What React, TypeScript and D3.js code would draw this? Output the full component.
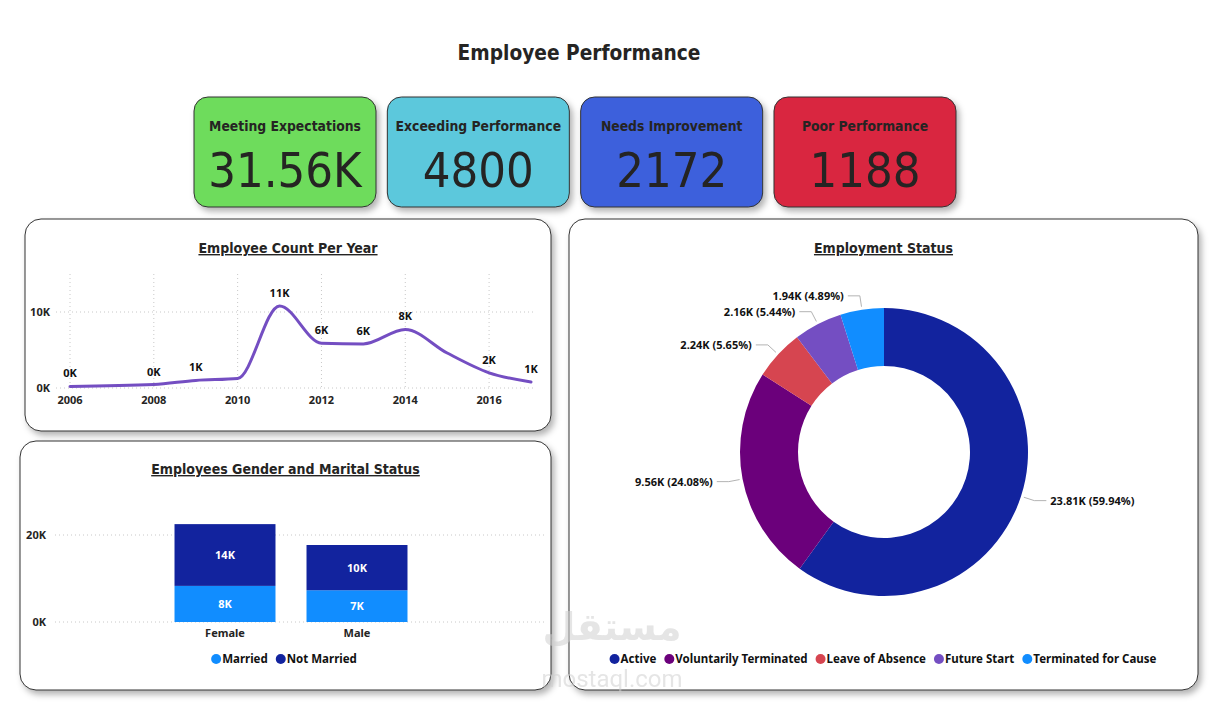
import {useEffect, useRef} from "react";
import * as d3 from "d3";

// KPI cards
const kpiTitles = ["Meeting Expectations", "Exceeding Performance", "Needs Improvement", "Poor Performance"];
const kpiValues = ["31.56K", "4800", "2172", "1188"];
const kpiColors = ["#6edc5c", "#5bc8dc", "#3c60dc", "#d92740"];

// Employee count per year
const years = [2006, 2008, 2009, 2010, 2011, 2012, 2013, 2014, 2015, 2016, 2017];
const yearCounts = [200, 450, 1000, 1250, 10800, 5900, 5800, 7700, 4600, 2000, 800];
const yearLabels = ["0K", "0K", "1K", "", "11K", "6K", "6K", "8K", "", "2K", "1K"];
const yearTicks = [2006, 2008, 2010, 2012, 2014, 2016];
const countTicks = [0, 10000];

// Gender and marital status
const genders = ["Female", "Male"];
const marriedCounts = [8300, 7300];
const notMarriedCounts = [14200, 10400];
const maritalKeys = ["Married", "Not Married"];
const maritalColors = ["#118dff", "#12239e"];
const genderTicks = [0, 20000];

// Employment status
const statuses = ["Active", "Voluntarily Terminated", "Leave of Absence", "Future Start", "Terminated for Cause"];
const statusCounts = [23810, 9560, 2240, 2160, 1940];
const statusLabels = ["23.81K (59.94%)", "9.56K (24.08%)", "2.24K (5.65%)", "2.16K (5.44%)", "1.94K (4.89%)"];
const statusColors = ["#12239e", "#6b007b", "#d64550", "#744ec2", "#118dff"];

const DIN = "'DejaVu Sans', sans-serif";
const SEGOE = "'Noto Sans', 'Open Sans', sans-serif";
const INK = "#252423";

export default function App() {
  const svgRef = useRef<SVGSVGElement>(null);

  useEffect(() => {
    if (!svgRef.current) return;
    const svg = d3.select(svgRef.current);
    svg.selectAll("*").remove();

    const defs = svg.append("defs");
    defs
      .append("filter")
      .attr("id", "shadow")
      .attr("x", "-10%")
      .attr("y", "-10%")
      .attr("width", "130%")
      .attr("height", "140%")
      .append("feDropShadow")
      .attr("dx", 3)
      .attr("dy", 4)
      .attr("stdDeviation", 3)
      .attr("flood-color", "#000")
      .attr("flood-opacity", 0.3);

    const din = (g: d3.Selection<any, any, any, any>, size: number, bold = true) =>
      g
        .style("font-family", DIN)
        .style("font-stretch", "condensed")
        .style("font-weight", bold ? "bold" : "normal")
        .style("font-size", `${size}px`)
        .style("fill", INK);

    // titre principal
    svg
      .append("text")
      .attr("x", 579)
      .attr("y", 60)
      .attr("text-anchor", "middle")
      .call(din, 20.7)
      .text("Employee Performance");

    // cartes KPI
    const kpiX = d3.scaleBand<string>().domain(kpiTitles).range([194, 956]).paddingInner(0.0586);
    const cards = svg
      .selectAll("g.kpi")
      .data(kpiTitles)
      .join("g")
      .attr("class", "kpi")
      .attr("transform", (d) => `translate(${kpiX(d)},97)`);
    cards
      .append("rect")
      .attr("width", kpiX.bandwidth())
      .attr("height", 110)
      .attr("rx", 14)
      .style("fill", (d, i) => kpiColors[i])
      .style("stroke", "#333")
      .style("stroke-width", 1)
      .attr("filter", "url(#shadow)");
    cards
      .append("text")
      .attr("x", kpiX.bandwidth() / 2)
      .attr("y", 34)
      .attr("text-anchor", "middle")
      .call(din, 13.8)
      .text((d) => d);
    cards
      .append("text")
      .attr("x", kpiX.bandwidth() / 2)
      .attr("y", 90)
      .attr("text-anchor", "middle")
      .call(din, 48.5, false)
      .text((d, i) => kpiValues[i]);

    // panneaux
    const panel = (x: number, y: number, w: number, h: number, title: string, ty: number) => {
      svg
        .append("rect")
        .attr("x", x)
        .attr("y", y)
        .attr("width", w)
        .attr("height", h)
        .attr("rx", 16)
        .style("fill", "#fff")
        .style("stroke", "#333")
        .style("stroke-width", 1)
        .attr("filter", "url(#shadow)");
      svg
        .append("text")
        .attr("x", x + w / 2)
        .attr("y", ty)
        .attr("text-anchor", "middle")
        .call(din, 14)
        .style("text-decoration", "underline")
        .text(title);
    };
    panel(25, 219, 526, 212, "Employee Count Per Year", 253);
    panel(20, 441, 531, 249, "Employees Gender and Marital Status", 474);
    panel(569, 219, 629, 471, "Employment Status", 253);

    const label = (g: d3.Selection<any, any, any, any>) =>
      g.style("font-family", SEGOE).style("font-weight", "bold").style("font-size", "11px").style("fill", INK);

    // ---- Courbe par année
    const x = d3.scaleLinear().domain([2006, 2017]).range([70, 531]);
    const y = d3.scaleLinear().domain([0, 15000]).range([388, 274]);
    const grid = "#c8c8c8";
    svg
      .append("g")
      .selectAll("line")
      .data(yearTicks)
      .join("line")
      .attr("x1", (d) => x(d))
      .attr("x2", (d) => x(d))
      .attr("y1", y(15000))
      .attr("y2", y(0))
      .style("stroke", grid)
      .style("stroke-dasharray", "1,3");
    svg
      .append("g")
      .selectAll("line")
      .data(countTicks)
      .join("line")
      .attr("x1", 56)
      .attr("x2", 534)
      .attr("y1", (d) => y(d))
      .attr("y2", (d) => y(d))
      .style("stroke", grid)
      .style("stroke-dasharray", "1,3");
    svg
      .append("g")
      .selectAll("text")
      .data(countTicks)
      .join("text")
      .attr("x", 50)
      .attr("y", (d) => y(d) + 4)
      .attr("text-anchor", "end")
      .text((d) => `${d / 1000}K`)
      .call(label);
    svg
      .append("g")
      .selectAll("text")
      .data(yearTicks)
      .join("text")
      .attr("x", (d) => x(d))
      .attr("y", 404)
      .attr("text-anchor", "middle")
      .text((d) => d)
      .call(label);

    const line = d3
      .line<number>()
      .x((d, i) => x(years[i]))
      .y((d) => y(d))
      .curve(d3.curveMonotoneX);
    svg
      .append("path")
      .datum(yearCounts)
      .attr("d", line)
      .style("fill", "none")
      .style("stroke", "#744ec2")
      .style("stroke-width", 3)
      .style("stroke-linecap", "round");
    svg
      .append("g")
      .selectAll("text")
      .data(yearCounts)
      .join("text")
      .attr("x", (d, i) => x(years[i]))
      .attr("y", (d) => y(d) - 9)
      .attr("text-anchor", "middle")
      .text((d, i) => yearLabels[i])
      .call(label)
      .style("fill", "#111");

    // ---- Barres empilées
    const bx = d3.scaleBand<string>().domain(genders).range([93, 489]).paddingInner(0.235).paddingOuter(0.6175);
    const by = d3.scaleLinear().domain([0, 25000]).range([622, 513.25]);
    svg
      .append("g")
      .selectAll("line")
      .data(genderTicks)
      .join("line")
      .attr("x1", 55)
      .attr("x2", 545)
      .attr("y1", (d) => by(d))
      .attr("y2", (d) => by(d))
      .style("stroke", grid)
      .style("stroke-dasharray", "1,3");
    svg
      .append("g")
      .selectAll("text")
      .data(genderTicks)
      .join("text")
      .attr("x", 46)
      .attr("y", (d) => by(d) + 4)
      .attr("text-anchor", "end")
      .text((d) => `${d / 1000}K`)
      .call(label);

    const table = genders.map((g, i) => ({gender: g, Married: marriedCounts[i], "Not Married": notMarriedCounts[i]}));
    const stacked = d3.stack<any>().keys(maritalKeys)(table);
    const layers = svg
      .append("g")
      .selectAll("g")
      .data(stacked)
      .join("g")
      .style("fill", (d, i) => maritalColors[i]);
    layers
      .selectAll("rect")
      .data((d) => d)
      .join("rect")
      .attr("x", (d) => bx(d.data.gender)!)
      .attr("width", bx.bandwidth())
      .attr("y", (d) => by(d[1]))
      .attr("height", (d) => by(d[0]) - by(d[1]));
    layers
      .selectAll("text")
      .data((d) => d)
      .join("text")
      .attr("x", (d) => bx(d.data.gender)! + bx.bandwidth() / 2)
      .attr("y", (d) => (by(d[0]) + by(d[1])) / 2 + 4)
      .attr("text-anchor", "middle")
      .text((d) => `${Math.round((d[1] - d[0]) / 1000)}K`)
      .call(label)
      .style("fill", "#fff");
    svg
      .append("g")
      .selectAll("text")
      .data(genders)
      .join("text")
      .attr("x", (d) => bx(d)! + bx.bandwidth() / 2)
      .attr("y", 637)
      .attr("text-anchor", "middle")
      .text((d) => d)
      .call(label);

    // légende
    const legend = (items: string[], colors: string[], cx: number, cy: number) => {
      const g = svg.append("g");
      let pos = 0;
      items.forEach((name, i) => {
        g.append("circle")
          .attr("cx", pos + 5)
          .attr("cy", cy)
          .attr("r", 5)
          .style("fill", colors[i]);
        const t = g
          .append("text")
          .attr("x", pos + 11)
          .attr("y", cy + 4)
          .text(name)
          .call(label)
          .style("font-size", "11.5px")
          .style("fill", "#111");
        pos += 11 + (t.node() as SVGTextElement).getComputedTextLength() + 8;
      });
      pos -= 8;
      g.attr("transform", `translate(${cx - pos / 2},0)`);
    };
    legend(maritalKeys, maritalColors, 284, 659);

    // ---- Anneau
    const cx = 884;
    const cy = 452;
    const outer = 144;
    const inner = 86;
    const pie = d3
      .pie<number>()
      .sort(null)
      .value((d) => d);
    const arcs = pie(statusCounts);
    const arc = d3.arc<d3.PieArcDatum<number>>().innerRadius(inner).outerRadius(outer);
    const donut = svg.append("g").attr("transform", `translate(${cx},${cy})`);
    donut
      .selectAll("path")
      .data(arcs)
      .join("path")
      .attr("d", arc)
      .style("fill", (d, i) => statusColors[i]);

    const pointAt = (a: number, r: number): [number, number] => [Math.sin(a) * r, -Math.cos(a) * r];
    arcs.forEach((d, i) => {
      const mid = (d.startAngle + d.endAngle) / 2;
      const right = Math.sin(mid) > 0;
      const p0 = pointAt(mid, outer + 3);
      const p1 = pointAt(mid, outer + 14);
      const p2: [number, number] = [p1[0] + (right ? 12 : -12), p1[1]];
      donut
        .append("polyline")
        .attr("points", [p0, p1, p2].map((p) => p.join(",")).join(" "))
        .style("fill", "none")
        .style("stroke", "#b3b3b3")
        .style("stroke-width", 1);
      donut
        .append("text")
        .attr("x", p2[0] + (right ? 4 : -4))
        .attr("y", p2[1] + 4)
        .attr("text-anchor", right ? "start" : "end")
        .text(statusLabels[i])
        .call(label)
        .style("fill", "#111");
    });
    legend(statuses, statusColors, 883, 659);

    // filigrane
    const wm = svg.append("g").style("fill", "#d0d0d0").style("opacity", 0.55);
    wm.append("text")
      .attr("x", 612)
      .attr("y", 640)
      .attr("text-anchor", "middle")
      .style("font-family", "'DejaVu Sans', sans-serif")
      .style("font-weight", "bold")
      .style("font-size", "38px")
      .text("مستقل");
    wm.append("text")
      .attr("x", 612)
      .attr("y", 687)
      .attr("text-anchor", "middle")
      .style("font-family", "Roboto, sans-serif")
      .style("font-size", "24px")
      .text("mostaql.com");
  }, []);

  return (
    <svg
      ref={svgRef}
      width={1223}
      height={702}
      style={{position: "absolute", left: 0, top: 0, background: "#fff", display: "block"}}
    />
  );
}
